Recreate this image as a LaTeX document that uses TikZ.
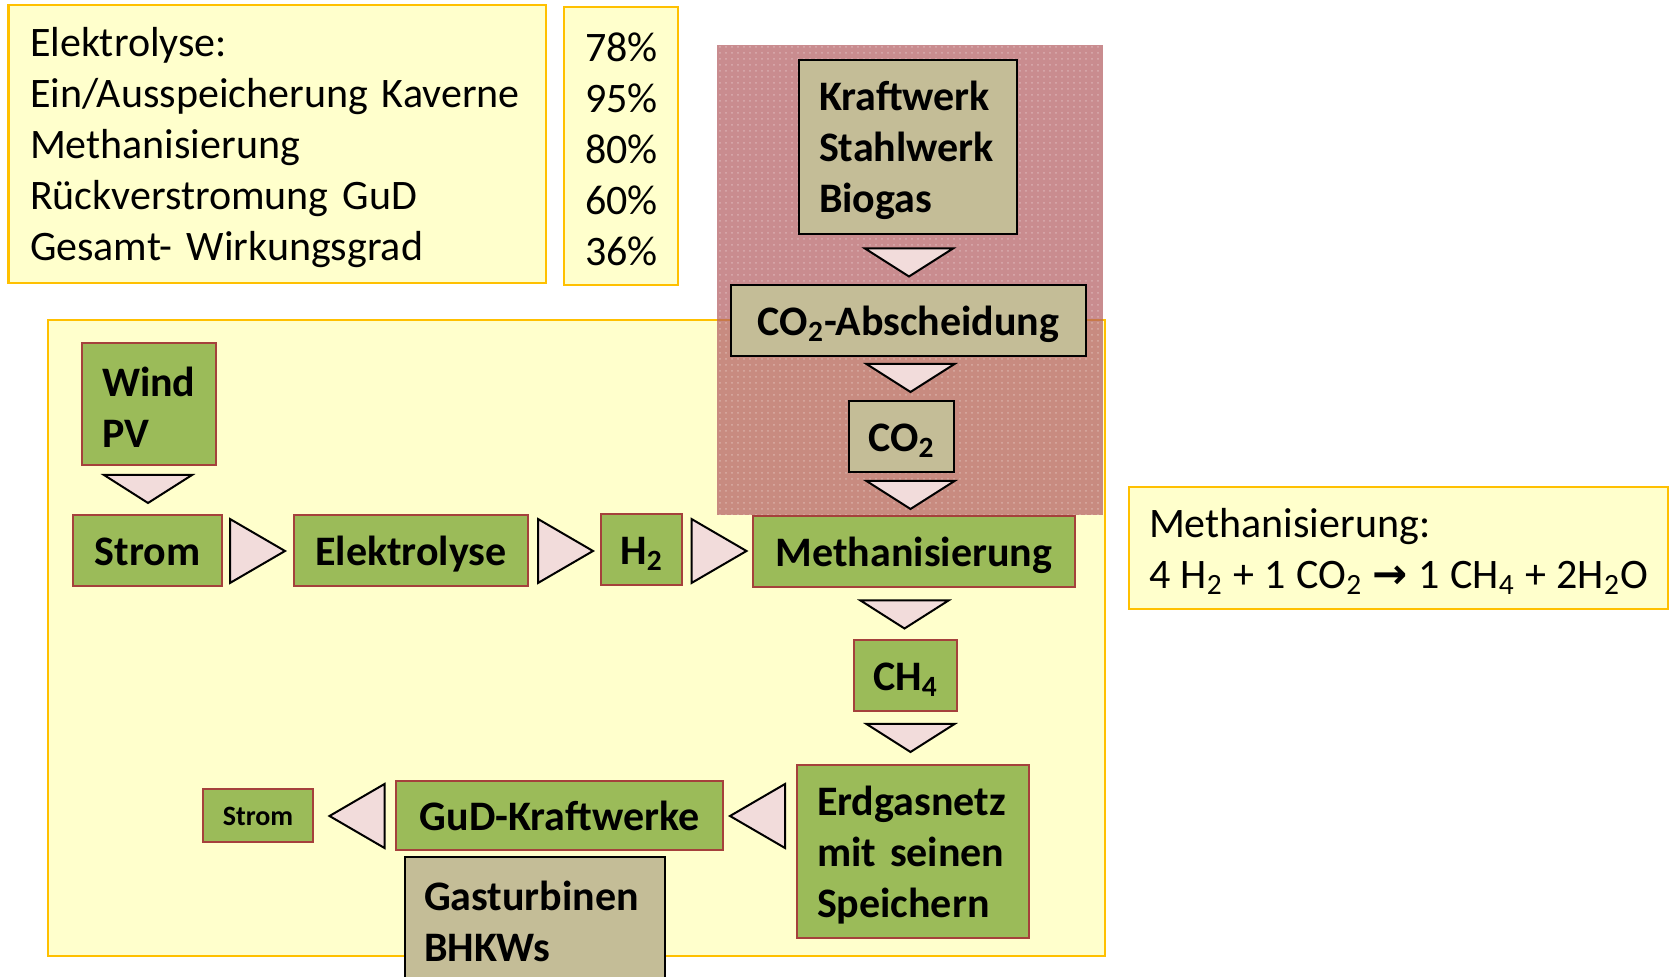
\documentclass[tikz,border=0pt]{standalone}
\usepackage{fontspec}
\setmainfont{Carlito}
\newfontfamily\arrowfont{DejaVu Sans}
\usetikzlibrary{positioning, patterns}
\definecolor{boxgreen}{HTML}{9BBB59}
\definecolor{boxred}{RGB}{165,65,60}
\definecolor{beige}{HTML}{C4BD97}
\definecolor{tripink}{HTML}{F2DCDB}
\definecolor{paleyellow}{HTML}{FFFFCC}
\definecolor{gold}{HTML}{FFC000}
\definecolor{zonepink}{RGB}{180,95,100}
\tikzset{
  gbox/.style  = {draw=boxred, fill=boxgreen, line width=1pt, inner sep=0pt, text height=15pt, text depth=0pt, font=\bfseries\fontsize{21}{25.5}\selectfont},
  tbox/.style  = {draw=black, fill=beige, line width=1pt, inner sep=0pt, text height=15pt, text depth=0pt, font=\bfseries\fontsize{21}{25.5}\selectfont},
  lines/.style = {align=left, inner xsep=10pt, text width=#1, text height=18pt, text depth={}},
  note/.style  = {draw=gold, fill=paleyellow, line width=1.2pt, font=\fontsize{21}{25.5}\selectfont},
  tri/.style   = {draw=black, fill=tripink, line width=1pt, line join=miter},
  tdown/.pic   = {\path[tri] (-44,-14) -- (44,-14) -- (0,14) -- cycle;},
  tright/.pic  = {\path[tri] (-27.5,-32) -- (27.5,0) -- (-27.5,32) -- cycle;},
  tleft/.pic   = {\path[tri] (27.5,-32) -- (-27.5,0) -- (27.5,32) -- cycle;}
}

\begin{document}
\begin{tikzpicture}[x=0.5pt, y=-0.5pt]
  \useasboundingbox (0,0) rectangle (1670,977);

  % Wirkungsgrade
  \node[note, minimum width=268.75pt, minimum height=139pt, lines=247.25pt, inner xsep=10.75pt] (eta) at (277.25,144)
    {Elektrolyse:\\Ein/Ausspeicherung Kaverne\\Methanisierung\\Rückverstromung GuD\\Gesamt- Wirkungsgrad};
  \node[note, minimum width=57pt, minimum height=139pt, lines=36pt, align=right, inner xsep=10.5pt] (pct) at (621,146)
    {78\%\\95\%\\80\%\\60\%\\36\%};

  % Rahmen und CO2-Quelle
  \node[note, minimum width=528.5pt, minimum height=318pt] (system) at (576.5,638) {};
  \node[fill=zonepink, fill opacity=0.72, minimum width=193pt, minimum height=235pt, inner sep=0pt] (quelle) at (910,280) {};
  \fill[pattern=dots, pattern color=white, opacity=0.3] (quelle.north west) rectangle (quelle.south east);

  % Reaktionsgleichung
  \node[note, minimum width=269.5pt, minimum height=61pt, lines=249.5pt] (gleichung) at (1398.5,548)
    {Methanisierung:\\\makebox[249.5pt][l]{\spaceskip=.25em 4 H\textsubscript{2} + 1 CO\textsubscript{2} {\arrowfont\bfseries →} 1 CH\textsubscript{4} + 2H\textsubscript{2}O}};

  % CO2-Pfad
  \node[tbox, minimum width=109pt, minimum height=87pt, lines=89pt] (kraft) at (908,147) {Kraftwerk\\Stahlwerk\\Biogas};
  \node[tbox, minimum width=177.5pt, minimum height=35.5pt] (absch) at (908.5,320.5) {CO\textsubscript{2}-Abscheidung};
  \node[tbox, minimum width=52.5pt, minimum height=35.5pt] (co2) at (901.5,436.5) {CO\textsubscript{2}};

  % Strompfad
  \node[gbox, minimum width=67pt, minimum height=61pt, lines=47pt] (wind) at (149,404) {Wind\\PV};
  \node[gbox, minimum width=74.5pt, minimum height=35.5pt] (strom) at (147.5,550.5) {Strom};
  \node[gbox, minimum width=117pt, minimum height=35.5pt] (elektro) at (411,550.5) {Elektrolyse};
  \node[gbox, minimum width=40.5pt, minimum height=35.5pt] (h2) at (641.5,549.5) {H\textsubscript{2}};
  \node[gbox, minimum width=161pt, minimum height=35.5pt] (methan) at (914,551.5) {Methanisierung};
  \node[gbox, minimum width=51.5pt, minimum height=35.5pt] (ch4) at (905.5,675.5) {CH\textsubscript{4}};
  \node[gbox, minimum width=116pt, minimum height=86.5pt, lines=96pt, inner xsep=9.5pt] (erdgas) at (913,851.5) {Erdgasnetz\\mit seinen\\Speichern};
  \node[tbox, minimum width=130pt, minimum height=61pt, lines=111pt, inner xsep=9.5pt] (turbinen) at (535,918) {Gasturbinen\\BHKWs};
  \node[gbox, minimum width=163.5pt, minimum height=34.5pt] (gud) at (559.5,815.5) {GuD-Kraftwerke};
  \node[gbox, minimum width=55pt, minimum height=26.5pt, text height=10pt, font=\bfseries\fontsize{14}{17}\selectfont] (strom2) at (258,815.5) {Strom};

  % Pfeile
  \pic at (909,262.5) {tdown};
  \pic at (910.5,378) {tdown};
  \pic at (910.5,495) {tdown};
  \pic at (148,489) {tdown};
  \pic at (904.5,614.5) {tdown};
  \pic at (910.5,738) {tdown};
  \pic at (257.5,551) {tright};
  \pic at (565.5,551) {tright};
  \pic at (719,551) {tright};
  \pic at (757.5,816) {tleft};
  \pic at (357,816) {tleft};
\end{tikzpicture}
\end{document}
